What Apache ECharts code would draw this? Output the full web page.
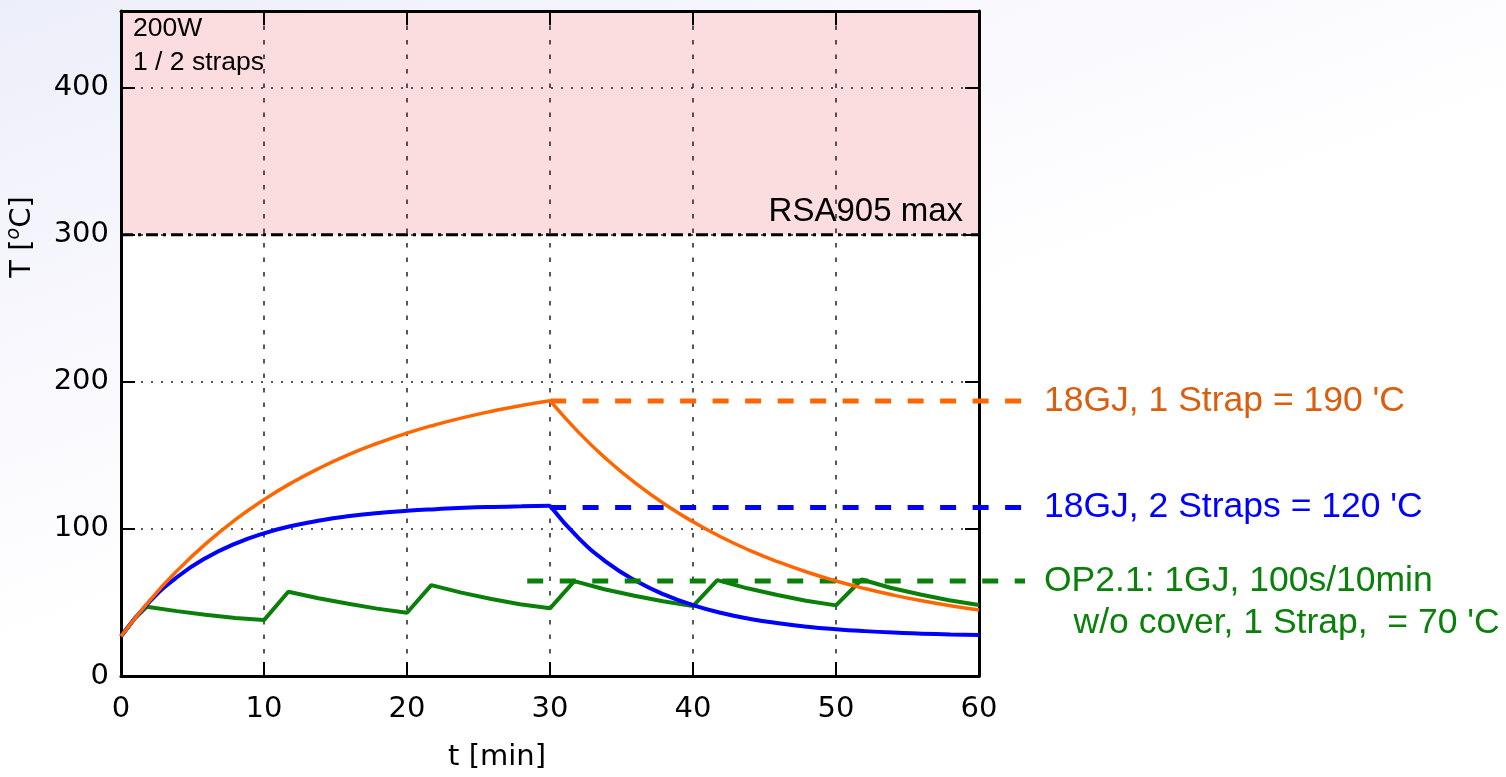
<!DOCTYPE html>
<html>
<head>
<meta charset="utf-8">
<script src="https://cdn.jsdelivr.net/npm/echarts@6/dist/echarts.min.js"></script>
<style>
  html, body { margin: 0; padding: 0; }
  body { background: linear-gradient(160deg, #eceef9 0%, #f7f7fd 25%, #ffffff 50%); }
  #chart { width: 1506px; height: 777px; }
</style>
</head>
<body>
<div id="chart"></div>
<script>
// time axes [min]
var heatTime = [0, 2, 4, 6, 8, 10, 12, 14, 16, 18, 20, 22, 24, 26, 28, 30];
var coolTime = [30, 32, 34, 36, 38, 40, 42, 44, 46, 48, 50, 52, 54, 56, 58, 60];
// 18GJ, 1 strap
var orangeHeat = [27, 51.3, 72.3, 90.5, 106.3, 119.9, 131.7, 141.9, 150.8, 158.4, 165.1, 170.8, 175.8, 180.1, 183.9, 187.1];
var orangeCool = [187.1, 165.6, 147.0, 130.9, 116.9, 104.8, 94.3, 85.2, 77.4, 70.5, 64.6, 59.5, 55.0, 51.1, 47.8, 44.9];
// 18GJ, 2 straps
var blueHeat = [27, 50.5, 67.8, 80.6, 90.0, 97.0, 102.1, 105.9, 108.7, 110.8, 112.3, 113.4, 114.3, 114.9, 115.3, 115.7];
var blueCool = [115.7, 93.7, 77.1, 64.7, 55.3, 48.2, 42.8, 38.8, 35.8, 33.5, 31.8, 30.5, 29.5, 28.8, 28.2, 27.8];
// OP2.1 pulsed
var greenTime = [0, 1, 1.8, 3.9, 5.9, 8.0, 10, 11.7, 13.8, 15.9, 17.9, 20, 21.7, 23.8, 25.9, 27.9, 30,
                 31.7, 33.8, 35.9, 37.9, 40, 41.7, 43.8, 45.9, 47.9, 50, 51.8, 53.8, 55.9, 57.9, 60];
var greenTemp = [27, 39.5, 47, 44.1, 41.6, 39.5, 38, 57.3, 52.9, 49.1, 45.8, 43, 61.8, 56.7, 52.3, 48.8, 46,
                 64.5, 59, 54.6, 50.8, 47.5, 65.2, 59.6, 55.1, 51.2, 48, 65.6, 60, 55.4, 51.5, 48.2];
// level lines (run past the frame up to the labels)
var orangeLevelTime = [30, 63.2];
var orangeLevel = [187, 187];
var blueLevelTime = [30, 63.2];
var blueLevel = [114.6, 114.6];
var greenLevelTime = [28.4, 63.2];
var greenLevel = [64.5, 64.5];
// RSA905 limit
var limitTime = [0, 60];
var limitTemp = [300, 300];
var yMax = 452;
var levelMax = 63.2;

function pairs(xs, ys) {
  return xs.map(function (x, i) { return [x, ys[i]]; });
}

var myChart = echarts.init(document.getElementById('chart'));

var tickFont = { fontFamily: 'DejaVu Sans', fontSize: 29, color: '#000' };
var labelFont = 'Liberation Sans';
var frameLine = { onZero: false, lineStyle: { color: '#000', width: 3 } };
var frameTick = { show: true, inside: true, length: 14, lineStyle: { color: '#000', width: 2 } };

var option = {
  animation: false,
  backgroundColor: 'transparent',
  grid: [
    { left: 121, right: 527, top: 11, bottom: 101 },
    // same scale, wider: lets the level lines reach the labels
    { left: 121, right: 481, top: 11, bottom: 101 }
  ],
  xAxis: [{
    type: 'value', min: 0, max: 60, interval: 10, z: 1.5,
    axisLine: frameLine, axisTick: frameTick,
    axisLabel: Object.assign({ margin: 19 }, tickFont),
    splitLine: { show: true, lineStyle: { color: '#222', width: 1.5, type: [4.5, 10] } }
  }, {
    type: 'value', position: 'top', min: 0, max: 60, interval: 10, z: 1.5,
    axisLine: frameLine, axisTick: frameTick,
    axisLabel: { show: false }, splitLine: { show: false }
  }, {
    gridIndex: 1, type: 'value', min: 0, max: levelMax, show: false
  }],
  yAxis: [{
    type: 'value', min: 0, max: yMax, interval: 100, z: 1.5,
    axisLine: Object.assign({ show: true }, frameLine), axisTick: frameTick,
    axisLabel: Object.assign({ margin: 12, showMaxLabel: false }, tickFont),
    splitLine: { show: true, lineStyle: { color: '#222', width: 1.5, type: [2, 8] } }
  }, {
    type: 'value', position: 'right', min: 0, max: yMax, interval: 100, z: 1.5,
    axisLine: Object.assign({ show: true }, frameLine), axisTick: frameTick,
    axisLabel: { show: false }, splitLine: { show: false }
  }, {
    gridIndex: 1, type: 'value', min: 0, max: yMax, show: false
  }],
  graphic: [
    { type: 'text', left: 133, top: 12, z: 10,
      style: { text: '200W\n1 / 2 straps', font: '26.5px "Liberation Sans"', lineHeight: 34, fill: '#000' } },
    { type: 'text', x: 963, y: 212, z: 10,
      style: { text: 'RSA905 max', font: '33px "Liberation Sans"', fill: '#000', align: 'right', verticalAlign: 'middle' } },
    { type: 'text', x: 497, y: 757, z: 10,
      style: { text: 't [min]', font: '29px "DejaVu Sans"', fill: '#000', align: 'center', verticalAlign: 'middle' } },
    { type: 'text', x: 22, y: 237, rotation: Math.PI / 2, z: 10,
      style: {
        text: '{n|T [}{s|o}{n|C]}', align: 'center', verticalAlign: 'middle',
        rich: {
          n: { fontFamily: 'DejaVu Sans', fontSize: 29, fill: '#000', lineHeight: 34 },
          s: { fontFamily: 'DejaVu Sans', fontSize: 19, fontStyle: 'italic', fill: '#000', verticalAlign: 'top', lineHeight: 34 }
        }
      } }
  ],
  series: [
    { // RSA905 limit + forbidden zone
      name: 'limit', type: 'line', z: 1.8, symbol: 'none', silent: true,
      data: pairs(limitTime, limitTemp),
      lineStyle: { color: '#000', width: 3, type: [12, 5, 3, 5] },
      markArea: {
        silent: true,
        data: [
          [{ yAxis: 0, itemStyle: { color: '#ffffff' } }, { yAxis: 300 }],
          [{ yAxis: 300, itemStyle: { color: '#fbdde0' } }, { yAxis: yMax }]
        ]
      }
    },
    {
      name: 'green', type: 'line', z: 2, symbol: 'none',
      data: pairs(greenTime, greenTemp),
      lineStyle: { color: '#0a800a', width: 4 }
    },
    {
      name: 'blue heat', type: 'line', z: 3, symbol: 'none', smooth: true,
      data: pairs(heatTime, blueHeat),
      lineStyle: { color: '#0000ff', width: 4 }
    },
    {
      name: 'blue cool', type: 'line', z: 3, symbol: 'none', smooth: true,
      data: pairs(coolTime, blueCool),
      lineStyle: { color: '#0000ff', width: 4 }
    },
    {
      name: 'orange heat', type: 'line', z: 4, symbol: 'none', smooth: true,
      data: pairs(heatTime, orangeHeat),
      lineStyle: { color: '#ff6600', width: 3.5 }
    },
    {
      name: 'orange cool', type: 'line', z: 4, symbol: 'none', smooth: true,
      data: pairs(coolTime, orangeCool),
      lineStyle: { color: '#ff6600', width: 3.5 }
    },
    {
      name: 'orange level', type: 'line', xAxisIndex: 2, yAxisIndex: 2, z: 3, symbol: 'none',
      data: pairs(orangeLevelTime, orangeLevel),
      lineStyle: { color: '#ff6600', width: 5, type: [16, 16.5] },
      endLabel: { show: true, formatter: "18GJ, 1 Strap = 190 'C", distance: 19,
        fontFamily: labelFont, fontSize: 35.5, color: '#d95f0e' }
    },
    {
      name: 'blue level', type: 'line', xAxisIndex: 2, yAxisIndex: 2, z: 3, symbol: 'none',
      data: pairs(blueLevelTime, blueLevel),
      lineStyle: { color: '#0000ff', width: 5, type: [16, 16.5] },
      endLabel: { show: true, formatter: "18GJ, 2 Straps = 120 'C", distance: 19,
        fontFamily: labelFont, fontSize: 35.5, color: '#0000ff' }
    },
    {
      name: 'green level', type: 'line', xAxisIndex: 2, yAxisIndex: 2, z: 3, symbol: 'none',
      data: pairs(greenLevelTime, greenLevel),
      lineStyle: { color: '#0a800a', width: 5, type: [16, 16.5] },
      endLabel: { show: true, formatter: "OP2.1: 1GJ, 100s/10min\n   w/o cover, 1 Strap,  = 70 'C", distance: 19,
        offset: [0, 21], lineHeight: 42,
        fontFamily: labelFont, fontSize: 35.5, color: '#0a800a' }
    }
  ]
};
myChart.setOption(option);
</script>
</body>
</html>
